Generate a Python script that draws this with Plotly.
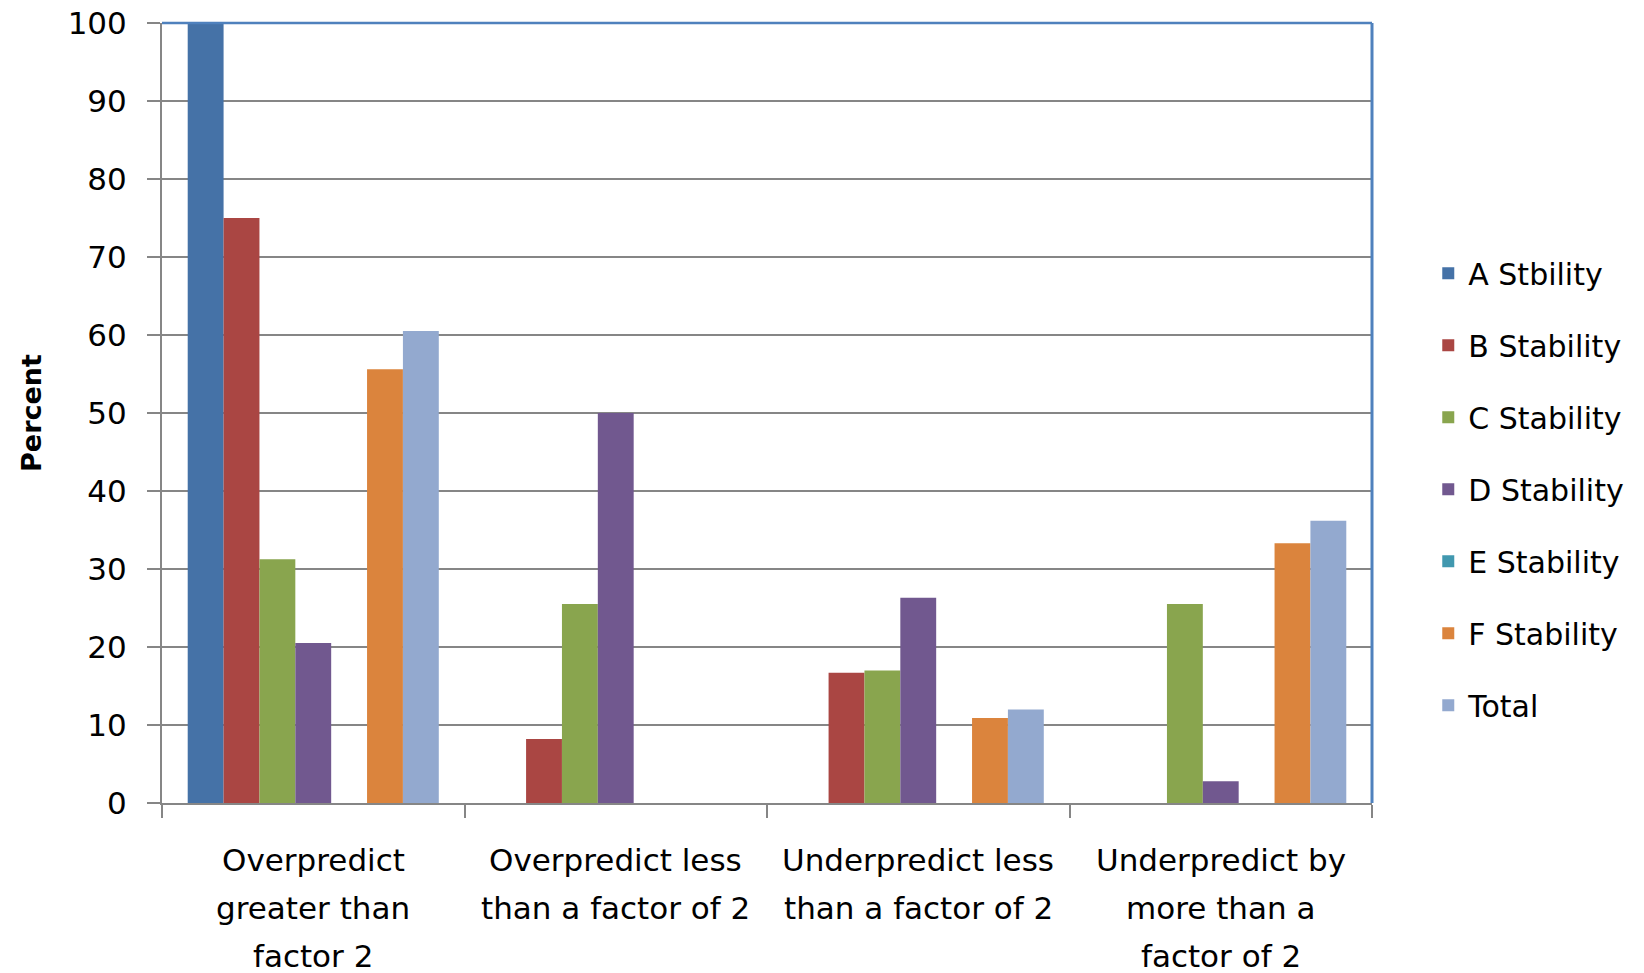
import plotly.graph_objects as go

categories = [
    "Overpredict<br>greater than<br>factor 2",
    "Overpredict less<br>than a factor of 2",
    "Underpredict less<br>than a factor of 2",
    "Underpredict by<br>more than a<br>factor of 2",
]
series_names = ["A Stbility", "B Stability", "C Stability", "D Stability",
                "E Stability", "F Stability", "Total"]
a_vals = [100, 0, 0, 0]
b_vals = [75, 8.2, 16.7, 0]
c_vals = [31.25, 25.5, 17.0, 25.5]
d_vals = [20.5, 50, 26.3, 2.8]
e_vals = [0, 0, 0, 0]
f_vals = [55.6, 0, 10.9, 33.3]
total_vals = [60.5, 0, 12.0, 36.2]
colors = ["#4572A7", "#AA4643", "#89A54E", "#71588F", "#4198AF", "#DB843D", "#93A9CF"]
y_ticks = list(range(0, 101, 10))

values = [a_vals, b_vals, c_vals, d_vals, e_vals, f_vals, total_vals]
xkeys = [c.replace("<br>", " ") for c in categories]

fig = go.Figure()
for i, (name, vals, col) in enumerate(zip(series_names, values, colors)):
    fig.add_trace(go.Bar(
        x=xkeys, y=vals, name=name, marker=dict(color=col, line=dict(width=0)),
        legendgroup=f"g{i}",
    ))

GRID = "#868686"
FONT = "DejaVu Sans"

fig.update_layout(
    width=1644, height=973,
    margin=dict(l=162, r=272, t=23, b=170),
    plot_bgcolor="white", paper_bgcolor="white",
    barmode="group", bargap=0.17, bargroupgap=0,
    font=dict(family=FONT, color="black"),
    legend=dict(
        x=1.0465, xanchor="left", xref="paper", y=0.7125, yanchor="top",
        font=dict(family=FONT, size=30, color="black"),
        tracegroupgap=30, itemwidth=30, bgcolor="rgba(0,0,0,0)",
    ),
    showlegend=True,
)
fig.update_xaxes(
    showline=True, linecolor=GRID, linewidth=2,
    ticks="outside", ticklen=13, tickwidth=2, tickcolor=GRID,
    tickson="boundaries", showticklabels=False, showgrid=False,
    automargin=False,
)
fig.update_yaxes(
    range=[0, 100], tickvals=y_ticks, ticktext=[str(v) for v in y_ticks],
    showline=True, linecolor=GRID, linewidth=2,
    showgrid=True, gridcolor=GRID, gridwidth=2, zeroline=False,
    ticks="outside", ticklen=13, tickwidth=2, tickcolor=GRID,
    tickfont=dict(family=FONT, size=31, color="black"),
    ticklabelstandoff=14,
    title=dict(text="<b>Percent</b>", font=dict(family=FONT, size=27, color="black"), standoff=18),
    automargin=False,
)

# plot area border (top and right) in blue
fig.add_shape(type="line", xref="paper", yref="paper", x0=0, x1=1, y0=1, y1=1,
              line=dict(color="#4F81BD", width=2.5), layer="above")
fig.add_shape(type="line", xref="paper", yref="paper", x0=1, x1=1, y0=0, y1=1,
              line=dict(color="#4F81BD", width=3), layer="above")

# category labels, one annotation per line for Excel-like line spacing
line_offsets = [57, 105, 153]
for key, cat in zip(xkeys, categories):
    for j, line in enumerate(cat.split("<br>")):
        fig.add_annotation(
            x=key, xref="x", y=0, yref="paper", yshift=-line_offsets[j],
            text=line, showarrow=False, yanchor="middle",
            font=dict(family=FONT, size=31, color="black"),
        )

fig.write_html("out.html")
